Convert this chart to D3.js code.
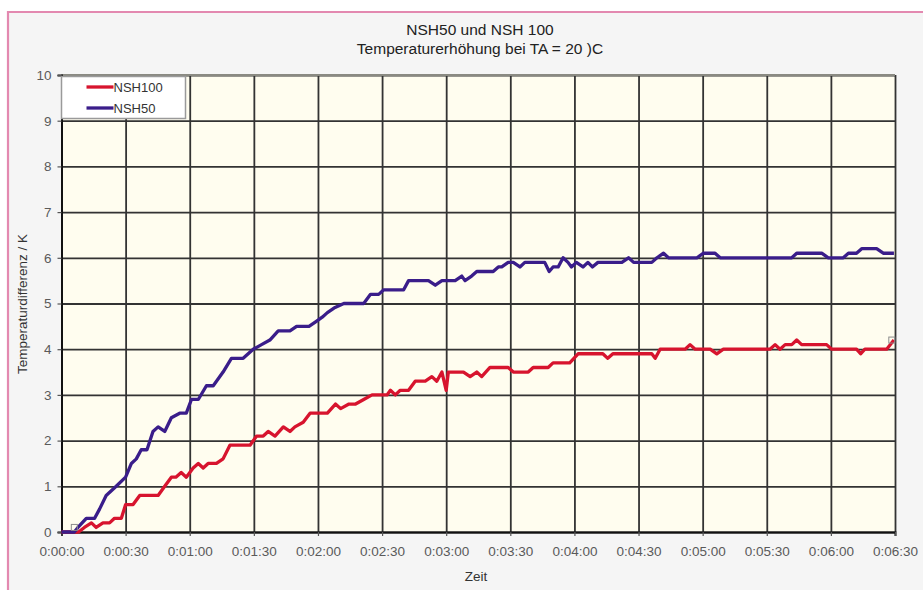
<!DOCTYPE html>
<html>
<head>
<meta charset="utf-8">
<script src="https://cdn.jsdelivr.net/npm/d3@7"></script>
<style>
  html, body { margin: 0; padding: 0; background: #ffffff; }
  svg { display: block; font-family: "Liberation Sans", Arial, sans-serif; }
</style>
</head>
<body>
<script>
//DATA (time in seconds, temperature difference in K)
const titleLines = ["NSH50 und NSH 100", "Temperaturerhöhung bei TA = 20 )C"];
const seriesNames = ["NSH100", "NSH50"];
const xTicks = [0, 30, 60, 90, 120, 150, 180, 210, 240, 270, 300, 330, 360, 390];
const yTicks = [0, 1, 2, 3, 4, 5, 6, 7, 8, 9, 10];

const nsh100 = [[0,0],[8,0],[10.7,0.1],[14,0.2],[16.2,0.1],[19.4,0.2],[22.5,0.2],[24.8,0.3],[28,0.3],[30,0.6],
  [33.5,0.6],[36.6,0.8],[45.2,0.8],[48.3,1.0],[51.4,1.2],[53.5,1.2],[56,1.3],[58.4,1.2],[61.6,1.4],[64,1.5],
  [66.3,1.4],[68.6,1.5],[72.5,1.5],[75.6,1.6],[78.8,1.9],[88.2,1.9],[91.3,2.1],[94.4,2.1],[96.7,2.2],[99.9,2.1],
  [103.8,2.3],[106.9,2.2],[109.2,2.3],[113.1,2.4],[116.3,2.6],[124.4,2.6],[128.2,2.8],[130.6,2.7],[134.5,2.8],
  [137.6,2.8],[141.4,2.9],[145.3,3.0],[152.3,3.0],[153.9,3.1],[156.2,3.0],[158.5,3.1],[162.4,3.1],[165.5,3.3],
  [170.2,3.3],[173.3,3.4],[175.6,3.3],[178,3.5],[180,3.1],[181,3.5],[188.1,3.5],[191.2,3.4],[194.3,3.5],
  [196.6,3.4],[200.5,3.6],[209,3.6],[211.4,3.5],[218.4,3.5],[220.7,3.6],[227.7,3.6],[230,3.7],[237.8,3.7],
  [241.7,3.9],[253.3,3.9],[255.6,3.8],[258,3.9],[276.2,3.9],[277.8,3.8],[280.1,4.0],[291.8,4.0],[294.1,4.1],
  [296.5,4.0],[303.5,4.0],[306.6,3.9],[309.7,4.0],[331.5,4.0],[333.9,4.1],[336.2,4.0],[338.6,4.1],[341.7,4.1],
  [344,4.2],[346.3,4.1],[358,4.1],[360.4,4.0],[372,4.0],[373.9,3.9],[375.9,4.0],[386.1,4.0],[389.5,4.2]];

const nsh50 = [[0,0],[6,0],[7.7,0.1],[11.6,0.3],[15.5,0.3],[17.8,0.5],[20.9,0.8],[25.6,1.0],[30,1.2],[32.7,1.5],
  [35,1.6],[37.3,1.8],[40,1.8],[42.8,2.2],[45.2,2.3],[48.3,2.2],[51.4,2.5],[55.3,2.6],[58.4,2.6],[60.8,2.9],
  [64,2.9],[67.8,3.2],[71,3.2],[75.6,3.5],[79.5,3.8],[85,3.8],[89.7,4.0],[93.6,4.1],[97.5,4.2],[101.4,4.4],
  [106.9,4.4],[110,4.5],[115.8,4.5],[118.9,4.6],[122,4.7],[124.4,4.8],[127.5,4.9],[132.1,5.0],[141.4,5.0],
  [144.6,5.2],[148.4,5.2],[150.8,5.3],[160.1,5.3],[162.4,5.5],[171.7,5.5],[174.9,5.4],[178,5.5],[184.2,5.5],
  [187.3,5.6],[188.8,5.5],[191.9,5.6],[194.3,5.7],[202,5.7],[204.4,5.8],[206,5.8],[209,5.9],[211.4,5.9],
  [214.5,5.8],[216.8,5.9],[226.1,5.9],[228.2,5.7],[230,5.8],[232.4,5.8],[234.7,6.0],[237,5.9],[238.6,5.8],
  [240.9,5.9],[244,5.8],[246.3,5.9],[248.4,5.8],[251,5.9],[262.2,5.9],[265.3,6.0],[267.7,5.9],[276.2,5.9],
  [278.6,6.0],[281.7,6.1],[284,6.0],[297.3,6.0],[300.4,6.1],[305.8,6.1],[308.2,6.0],[341.7,6.0],[344,6.1],
  [355.7,6.1],[358.8,6.0],[365.8,6.0],[368.2,6.1],[372,6.1],[374.4,6.2],[381.4,6.2],[384.5,6.1],[389.5,6.1]];

// small grey point markers left in the original export
const markers = [[6, 0.1], [388.5, 4.2]];

//USEFUL VARIABLES
const svgwidth = 923;
const svgheight = 590;
const plot = { left: 61.5, right: 895, top: 75, bottom: 532 };
const colors = { NSH100: "#d7142e", NSH50: "#3a1d8a" };

//SCALES
const X = d3.scaleLinear().domain([0, 390]).range([plot.left, plot.right]);
const Y = d3.scaleLinear().domain([0, 10]).range([plot.bottom, plot.top]);

const fmtTime = s => `0:${String(Math.floor(s / 60)).padStart(2, "0")}:${String(s % 60).padStart(2, "0")}`;

const svg = d3.select("body").append("svg")
  .attr("width", svgwidth)
  .attr("height", svgheight);

//FRAME: grey panel with the pink edge on top and left
svg.append("rect")
  .attr("x", 7).attr("y", 11)
  .attr("width", svgwidth - 7).attr("height", svgheight - 11)
  .attr("fill", "#f5f5f5");
svg.append("path")
  .attr("d", `M8,${svgheight} V12 H${svgwidth}`)
  .attr("fill", "none")
  .attr("stroke", "#e389b0")
  .attr("stroke-width", 2.2);

//PLOT BACKGROUND
svg.append("rect")
  .attr("x", plot.left).attr("y", plot.top)
  .attr("width", plot.right - plot.left).attr("height", plot.bottom - plot.top)
  .attr("fill", "#fffdef");

//GRID via axes
const grid = svg.append("g").classed("grid", true);
grid.append("g")
  .attr("transform", `translate(0, ${plot.bottom})`)
  .call(d3.axisBottom(X).tickValues(xTicks).tickSize(-(plot.bottom - plot.top)).tickFormat(""))
  .call(g => g.select(".domain").remove())
  .call(g => g.selectAll("line").attr("stroke", "#333").attr("stroke-width", 1.8));
grid.append("g")
  .attr("transform", `translate(${plot.left}, 0)`)
  .call(d3.axisLeft(Y).tickValues(yTicks).tickSize(-(plot.right - plot.left)).tickFormat(""))
  .call(g => g.select(".domain").remove())
  .call(g => g.selectAll("line").attr("stroke", "#333").attr("stroke-width", 1.8));

// grey top edge of the plot
svg.append("line")
  .attr("x1", plot.left).attr("x2", plot.right)
  .attr("y1", plot.top).attr("y2", plot.top)
  .attr("stroke", "#8a8a82").attr("stroke-width", 2.2);

//AXES with labels
const xAxis = svg.append("g")
  .attr("transform", `translate(0, ${plot.bottom})`)
  .call(d3.axisBottom(X).tickValues(xTicks).tickSize(4).tickPadding(10).tickFormat(fmtTime));
const yAxis = svg.append("g")
  .attr("transform", `translate(${plot.left}, 0)`)
  .call(d3.axisLeft(Y).tickValues(yTicks).tickSize(4).tickPadding(6));
[xAxis, yAxis].forEach(ax => {
  ax.select(".domain").attr("stroke", "#111").attr("stroke-width", 2);
  ax.selectAll(".tick line").attr("stroke", "#555").attr("stroke-width", 1.2);
  ax.selectAll(".tick text")
    .attr("fill", "#5a5a5a")
    .style("font-size", "13.5px")
    .style("font-family", "'Liberation Sans', Arial, sans-serif");
});

//LINES (NSH100 first so NSH50 lies on top)
const line = d3.line().x(d => X(d[0])).y(d => Y(d[1]));
[[nsh100, "NSH100"], [nsh50, "NSH50"]].forEach(([data, name]) => {
  svg.append("path")
    .datum(data)
    .attr("d", line)
    .attr("fill", "none")
    .attr("stroke", colors[name])
    .attr("stroke-width", 3.3)
    .attr("stroke-linejoin", "round");
});

svg.selectAll(".marker")
  .data(markers)
  .enter().append("rect").classed("marker", true)
  .attr("x", d => X(d[0]) - 3).attr("y", d => Y(d[1]) - 3)
  .attr("width", 6).attr("height", 6)
  .attr("fill", "none")
  .attr("stroke", "#8c8c8c").attr("stroke-width", 1);

//LEGEND
const legend = svg.append("g").attr("transform", `translate(${plot.left}, ${plot.top + 1.5})`);
legend.append("rect")
  .attr("width", 124).attr("height", 42)
  .attr("fill", "#ffffff")
  .attr("stroke", "#9a9a9a").attr("stroke-width", 1.5);
seriesNames.forEach((name, i) => {
  const y = 10.5 + i * 21;
  legend.append("line")
    .attr("x1", 25).attr("x2", 52).attr("y1", y).attr("y2", y)
    .attr("stroke", colors[name]).attr("stroke-width", 3.3);
  legend.append("text")
    .attr("x", 52).attr("y", y).attr("dy", "0.35em")
    .attr("fill", "#333")
    .style("font-size", "13px")
    .text(name);
});

//TITLES
svg.selectAll(".title")
  .data(titleLines)
  .enter().append("text").classed("title", true)
  .attr("x", 480).attr("y", (d, i) => 34.5 + i * 19)
  .attr("text-anchor", "middle")
  .attr("fill", "#222")
  .style("font-size", "15.5px")
  .text(d => d);

svg.append("text")
  .attr("x", 476).attr("y", 581)
  .attr("text-anchor", "middle")
  .attr("fill", "#333")
  .style("font-size", "13.5px")
  .text("Zeit");

svg.append("text")
  .attr("transform", `translate(26.5, ${(plot.top + plot.bottom) / 2 + 0.5}) rotate(-90)`)
  .attr("text-anchor", "middle")
  .attr("fill", "#333")
  .style("font-size", "13.5px")
  .text("Temperaturdifferenz / K");
</script>
</body>
</html>
